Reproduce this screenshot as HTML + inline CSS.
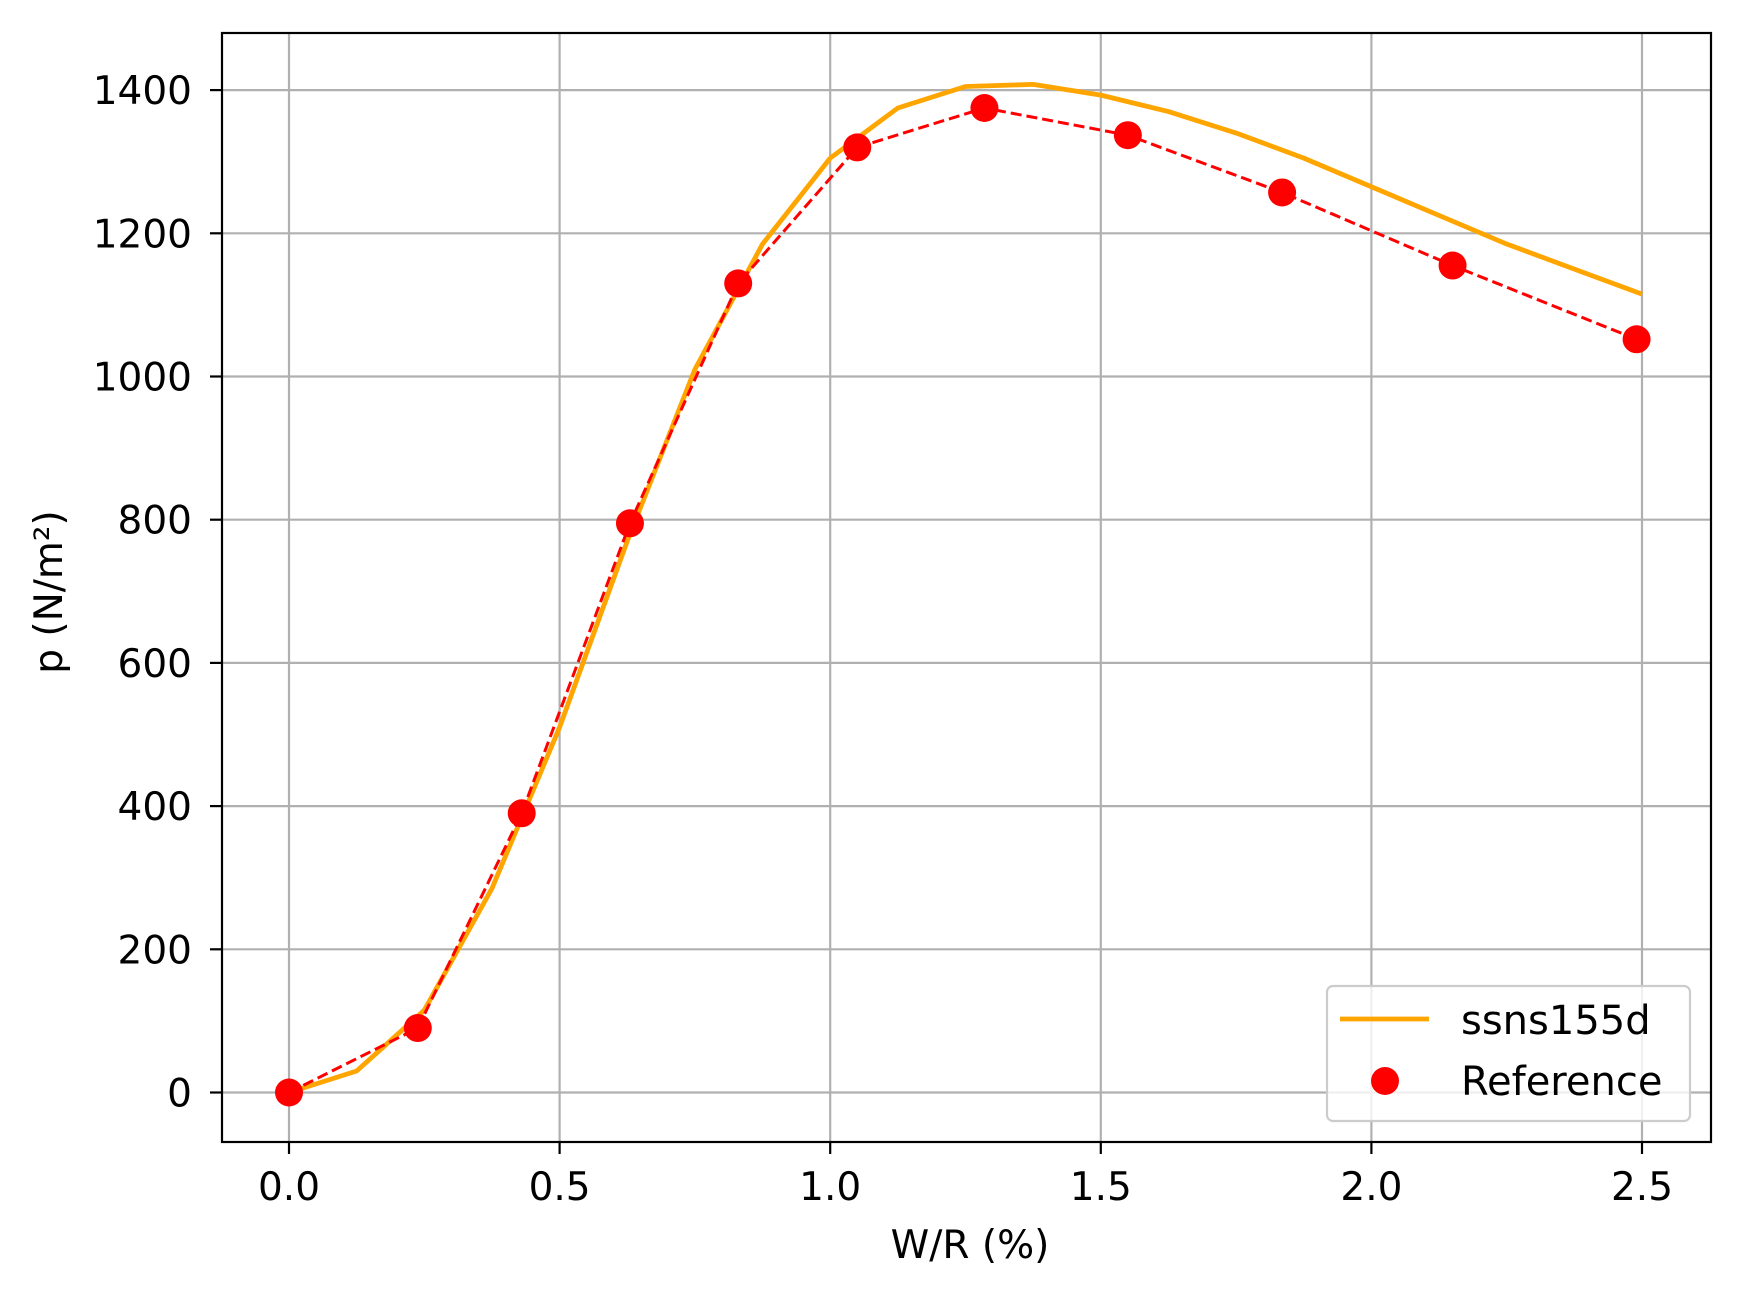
<!DOCTYPE html>
<html><head><meta charset="utf-8"><style>
html,body{margin:0;padding:0;background:#fff;}
svg{display:block;font-family:"DejaVu Sans","Liberation Sans",sans-serif;}
</style></head><body>
<svg id="s" width="1743" height="1298" viewBox="0 0 1743 1298" xmlns="http://www.w3.org/2000/svg">
<rect width="1743" height="1298" fill="#fff"/>
<g id="grid" stroke="#b0b0b0" stroke-width="2.2"></g>
<g id="ticks" stroke="#000" stroke-width="2.2"></g>
<g id="lbl" font-size="39" fill="#000"></g>
<polyline id="orange" fill="none" stroke="#ffa500" stroke-width="4.8" stroke-linejoin="round"/>
<polyline id="red" fill="none" stroke="#ff0000" stroke-width="3" stroke-dasharray="11,5"/>
<g id="dots" fill="#ff0000"></g>
<rect x="222" y="33" width="1489" height="1109" fill="none" stroke="#000" stroke-width="2.2"/>
<text x="970" y="1258" font-size="39" text-anchor="middle">W/R (%)</text>
<text transform="translate(62,592) rotate(-90)" font-size="39" text-anchor="middle">p (N/m²)</text>
<rect x="1327" y="986" width="363" height="135" rx="6" fill="#fff" fill-opacity="0.8" stroke="#cccccc" stroke-width="2.2"/>
<line x1="1340" y1="1019" x2="1429" y2="1019" stroke="#ffa500" stroke-width="4.8"/>
<circle cx="1385" cy="1081" r="14" fill="#ff0000"/>
<text x="1461" y="1034" font-size="40">ssns155d</text>
<text x="1461" y="1095" font-size="40">Reference</text>
</svg>
<script>
const X=v=>289+541.2*v, Y=p=>1092.5-0.716*p;
const g=document.getElementById('grid'),t=document.getElementById('ticks'),l=document.getElementById('lbl');
const ns='http://www.w3.org/2000/svg';
function el(p,tag,a,txt){const e=document.createElementNS(ns,tag);for(const k in a)e.setAttribute(k,a[k]);if(txt)e.textContent=txt;p.appendChild(e);}
for(let i=0;i<=5;i++){const v=i*0.5,x=X(v);
el(g,'line',{x1:x,y1:33,x2:x,y2:1142});
el(t,'line',{x1:x,y1:1142,x2:x,y2:1154});
el(l,'text',{x:x,y:1200,'text-anchor':'middle'},v.toFixed(1));}
for(let i=0;i<=7;i++){const p=i*200,y=Y(p);
el(g,'line',{x1:222,y1:y,x2:1711,y2:y});
el(t,'line',{x1:210,y1:y,x2:222,y2:y});
el(l,'text',{x:192,y:y+14,'text-anchor':'end'},String(p));}
const o=[[0,0],[0.125,30],[0.25,115],[0.375,285],[0.5,510],[0.625,770],[0.75,1010],[0.875,1185],[1.0,1305],[1.125,1375],[1.25,1405],[1.375,1408],[1.5,1393],[1.625,1370],[1.75,1340],[1.875,1305],[2.0,1265],[2.125,1225],[2.25,1185],[2.375,1150],[2.5,1115]];
const r=[[0,0],[0.238,90],[0.43,390],[0.63,795],[0.83,1130],[1.05,1320],[1.285,1375],[1.55,1337],[1.835,1257],[2.15,1155],[2.49,1052]];
document.getElementById('orange').setAttribute('points',o.map(a=>X(a[0])+','+Y(a[1])).join(' '));
document.getElementById('red').setAttribute('points',r.map(a=>X(a[0])+','+Y(a[1])).join(' '));
const d=document.getElementById('dots');
r.forEach(a=>el(d,'circle',{cx:X(a[0]),cy:Y(a[1]),r:14}));
</script>
</body></html>
